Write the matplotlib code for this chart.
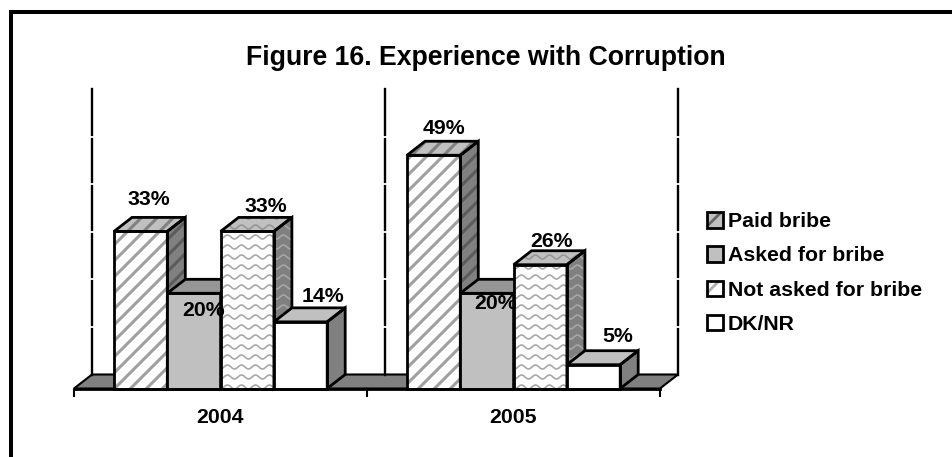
import numpy as np
import matplotlib
matplotlib.use("Agg")
import matplotlib.pyplot as plt
from matplotlib.lines import Line2D
from matplotlib.patches import Patch, Polygon, Rectangle
from matplotlib.legend_handler import HandlerTuple
from matplotlib.transforms import IdentityTransform

plt.rcParams['font.family'] = ['Liberation Sans', 'DejaVu Sans']
plt.rcParams['font.weight'] = 'bold'
plt.rcParams['hatch.linewidth'] = 2.0

title = "Figure 16. Experience with Corruption"
years = ["2004", "2005"]
series_names = ["Paid bribe", "Asked for bribe", "Not asked for bribe", "DK/NR"]
paid = [33, 49]
asked = [20, 20]
not_asked = [33, 26]
dk_nr = [14, 5]

W, H = 953, 457
fig = plt.figure(figsize=(W / 100, H / 100), dpi=100, facecolor='white')

# plot area in pixels
left, right = 74, 660
base = 388.5
px_per_pct = 4.76
ymax = 60
ax = fig.add_axes([left / W, (H - base) / H, (right - left) / W, ymax * px_per_pct / H])
ax.set_xlim(0, 2)
ax.set_ylim(0, ymax)
ax.patch.set_visible(False)
for s in ['top', 'left', 'right']:
    ax.spines[s].set_visible(False)
ax.spines['bottom'].set_linewidth(2)
ax.spines['bottom'].set_zorder(50)
ax.set_yticks([])
ax.set_xticks([0, 1, 2])
ax.set_xticklabels([])
ax.set_xticks([0.5, 1.5], minor=True)
ax.set_xticklabels(years, minor=True, fontsize=15.3, fontweight='bold')
ax.tick_params(axis='x', which='major', length=5.5, width=1.5)
ax.tick_params(axis='x', which='minor', length=0, pad=13.7)

# depth of the fake 3D, in data units
unit_px = (right - left) / 2
dx = 18 / unit_px
dy = 14 / px_per_pct
bar_w = 53.3 / unit_px
gap = 40 / unit_px


def stripes(patch, color, z):
    for c in np.arange(-H - W, W + H, 16.0):
        ln = Line2D([c, c + H], [0, H], color=color, lw=2.2,
                    transform=IdentityTransform(), zorder=z)
        ax.add_line(ln)
        ln.set_clip_path(patch)


def waves(patch, color, z):
    xs = np.arange(0, W + 1, 1.0)
    for r in np.arange(0, H, 10.0):
        ys = r + 2.0 * np.sin(xs * 2 * np.pi / 14)
        ln = Line2D(xs, ys, color=color, lw=1.2,
                    transform=IdentityTransform(), zorder=z)
        ax.add_line(ln)
        ln.set_clip_path(patch)


# floor and back wall
floor = Polygon([(0, 0), (dx, dy), (2 + dx, dy), (2, 0)], closed=True,
                facecolor='#808080', edgecolor='black', lw=1.5, clip_on=False, zorder=1)
ax.add_patch(floor)
for i in range(3):
    ax.plot([i + dx, i + dx], [dy, ymax + dy], color='black', lw=1.7, clip_on=False, zorder=2)
for v in range(10, ymax, 10):
    ax.plot([dx - 0.01, 2 + dx + 0.01], [v + dy, v + dy], color='white', lw=1.3,
            clip_on=False, zorder=3)

# face colours: front, top, side, and the texture of each
styles = [
    dict(front='white', top='#c0c0c0', side='#808080', tex=stripes,
         tex_front='#a0a0a0', tex_top='#808080', tex_side='#5c5c5c'),
    dict(front='#c0c0c0', top='#969696', side='#808080', tex=None),
    dict(front='white', top='#c0c0c0', side='#808080', tex=waves,
         tex_front='#a8a8a8', tex_top='#969696', tex_side='#a6a6a6'),
    dict(front='white', top='#c0c0c0', side='#808080', tex=None),
]

all_series = [paid, asked, not_asked, dk_nr]
# label offsets from the middle of the bar top, in pixels
label_offsets = [
    [(8, 32), (10, 27)],
    [(10, -17), (9, -10)],
    [(19, 25), (11, 23.5)],
    [(22, 25), (24, 28)],
]

z = 10
for s, values in enumerate(all_series):
    st = styles[s]
    for g, v in enumerate(values):
        x0 = g + gap + s * bar_w
        x1 = x0 + bar_w
        top = Polygon([(x0, v), (x0 + dx, v + dy), (x1 + dx, v + dy), (x1, v)], closed=True,
                      facecolor=st['top'], edgecolor='none', clip_on=False, zorder=z)
        side = Polygon([(x1, 0), (x1 + dx, dy), (x1 + dx, v + dy), (x1, v)], closed=True,
                       facecolor=st['side'], edgecolor='none', clip_on=False, zorder=z)
        ax.add_patch(top)
        ax.add_patch(side)
        bar = ax.bar(x0, v, width=bar_w, align='edge', color=st['front'],
                     edgecolor='none', zorder=z)[0]
        bar.set_clip_on(False)
        if st['tex'] is not None:
            st['tex'](top, st['tex_top'], z + 0.1)
            st['tex'](side, st['tex_side'], z + 0.1)
            st['tex'](bar, st['tex_front'], z + 0.1)
        for face in [(top.get_xy()), (side.get_xy()),
                     [(x0, 0), (x0, v), (x1, v), (x1, 0)]]:
            ax.add_patch(Polygon(face, closed=True, fill=False, edgecolor='black',
                                 lw=2.0, clip_on=False, zorder=z + 0.2, joinstyle='miter'))
        ox, oy = label_offsets[s][g]
        ax.annotate(f"{v}%", (x0 + bar_w / 2, v), xytext=(ox, oy), textcoords='offset pixels',
                    ha='center', va='center', fontsize=15.3, fontweight='bold',
                    annotation_clip=False, zorder=100)
        z += 1

# legend
outline = dict(fill=False, edgecolor='black', lw=2.0)
handles = [
    (Patch(facecolor='#c0c0c0', edgecolor='#666666', hatch='/', lw=0), Patch(**outline)),
    (Patch(facecolor='#c0c0c0', lw=0), Patch(**outline)),
    (Patch(facecolor='white', edgecolor='#b0b0b0', hatch='/', lw=0), Patch(**outline)),
    (Patch(facecolor='white', lw=0), Patch(**outline)),
]
fig.legend(handles, series_names, handler_map={tuple: HandlerTuple(ndivide=1, pad=0)},
           loc='upper left', bbox_to_anchor=(707 / W, 1 - 212 / H), frameon=False,
           fontsize=15.3, borderpad=0, borderaxespad=0, handlelength=0.75, handleheight=0.75,
           handletextpad=0.24, labelspacing=0.71)

fig.text(486 / W, 1 - 58 / H, title, ha='center', va='center', fontsize=19.2, fontweight='bold')

# black frame, top and left only
fig.add_artist(Rectangle((9 / W, 0), 4 / W, 1 - 10 / H, transform=fig.transFigure,
                         facecolor='black', edgecolor='none'))
fig.add_artist(Rectangle((9 / W, 1 - 14 / H), 1 - 9 / W, 4 / H, transform=fig.transFigure,
                         facecolor='black', edgecolor='none'))

fig.savefig("out.png", dpi=100, facecolor='white')
